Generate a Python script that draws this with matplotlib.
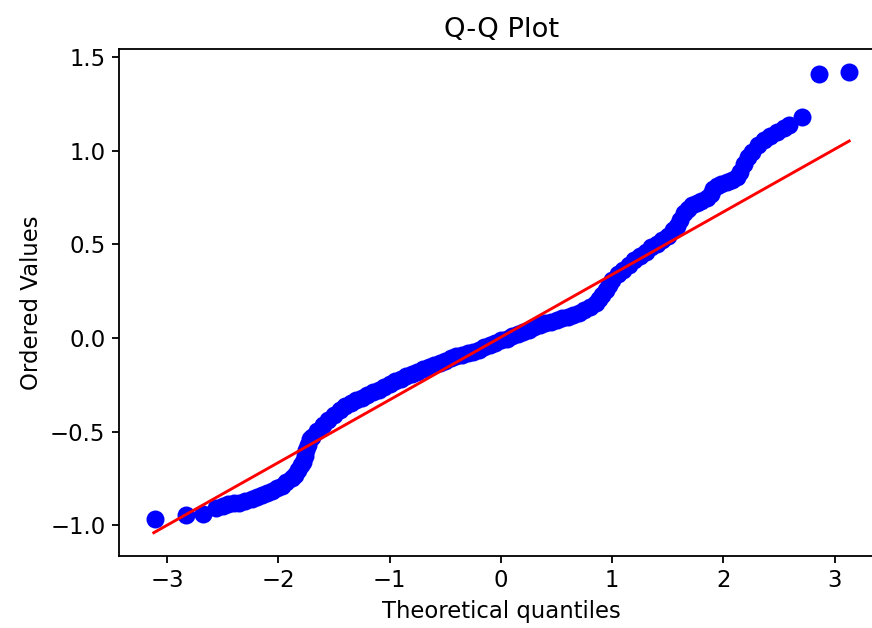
import matplotlib
matplotlib.use("Agg")
import matplotlib.pyplot as plt

# Theoretical quantiles (x) and ordered values (y)
theoretical_quantiles = [
    -3.11, -2.83, -2.68, -2.56, -2.50, -2.45, -2.40, -2.35, -2.30, -2.24,
    -2.19, -2.15, -2.10, -2.06, -2.01, -1.97, -1.93, -1.88, -1.85, -1.82,
    -1.80, -1.78, -1.765, -1.75, -1.735, -1.72, -1.70, -1.65, -1.60, -1.55,
    -1.50, -1.45, -1.40, -1.35, -1.30, -1.25, -1.20, -1.15, -1.10, -1.05,
    -1.00, -0.95, -0.90, -0.85, -0.80, -0.75, -0.70, -0.65, -0.60, -0.55,
    -0.50, -0.45, -0.40, -0.35, -0.30, -0.25, -0.20, -0.15, -0.10, -0.05,
    0.00, 0.05, 0.10, 0.15, 0.20, 0.25, 0.30, 0.35, 0.40, 0.45,
    0.50, 0.55, 0.60, 0.65, 0.70, 0.75, 0.80, 0.85, 0.88, 0.91,
    0.94, 0.97, 1.00, 1.05, 1.10, 1.15, 1.20, 1.25, 1.30, 1.35,
    1.40, 1.45, 1.50, 1.55, 1.58, 1.61, 1.645, 1.68, 1.72, 1.765,
    1.80, 1.85, 1.885, 1.91, 1.94, 1.98, 2.03, 2.08, 2.12, 2.15,
    2.18, 2.22, 2.26, 2.31, 2.36, 2.42, 2.48, 2.54, 2.59, 2.71,
    2.855, 3.13,
]
ordered_values = [
    -0.967, -0.946, -0.942, -0.91, -0.895, -0.887, -0.883, -0.88, -0.87, -0.86,
    -0.85, -0.84, -0.828, -0.816, -0.803, -0.79, -0.77, -0.75, -0.73, -0.705,
    -0.68, -0.66, -0.63, -0.60, -0.57, -0.54, -0.53, -0.495, -0.465, -0.44,
    -0.41, -0.385, -0.365, -0.348, -0.333, -0.32, -0.303, -0.29, -0.277, -0.262,
    -0.248, -0.232, -0.217, -0.203, -0.19, -0.18, -0.168, -0.155, -0.143, -0.132,
    -0.12, -0.108, -0.098, -0.088, -0.08, -0.073, -0.062, -0.05, -0.037, -0.025,
    -0.012, -0.003, 0.01, 0.022, 0.033, 0.045, 0.057, 0.068, 0.078, 0.088,
    0.098, 0.106, 0.114, 0.124, 0.135, 0.15, 0.167, 0.19, 0.21, 0.232,
    0.255, 0.285, 0.31, 0.34, 0.365, 0.39, 0.417, 0.44, 0.46, 0.485,
    0.505, 0.525, 0.545, 0.575, 0.60, 0.63, 0.666, 0.69, 0.71, 0.72,
    0.73, 0.75, 0.77, 0.795, 0.815, 0.822, 0.835, 0.845, 0.86, 0.885,
    0.93, 0.965, 0.996, 1.03, 1.058, 1.08, 1.10, 1.12, 1.138, 1.183,
    1.41, 1.42,
]

# Least-squares reference line end points
fit_x = [-3.12, 3.13]
fit_y = [-1.04, 1.053]

S = 1.64  # scale factor of the reference rendering

fig = plt.figure(figsize=(8.72, 6.28), dpi=100)
ax = fig.add_axes([119 / 872, 72.3 / 628, 765 / 872, 506.4 / 628])

ax.plot(theoretical_quantiles, ordered_values, 'o', color='blue',
        markersize=6.9 * S, markeredgewidth=1 * S)
ax.plot(fit_x, fit_y, '-', color='red', linewidth=1.5 * S * 0.85)

ax.set_title("Q-Q Plot", fontsize=12 * S, pad=6 * S * 0.9)
ax.set_xlabel("Theoretical quantiles", fontsize=10 * S, labelpad=4 * S * 0.8)
ax.set_ylabel("Ordered Values", fontsize=10 * S, labelpad=4 * S * 0.8)
ax.tick_params(labelsize=10 * S, length=3.5 * S * 0.85, width=0.8 * S, pad=3.5 * S * 0.85)
for sp in ax.spines.values():
    sp.set_linewidth(0.8 * S)

ax.set_xticks([-3, -2, -1, 0, 1, 2, 3])
ax.set_yticks([-1.0, -0.5, 0.0, 0.5, 1.0, 1.5])

fig.savefig("out.png", dpi=100)
